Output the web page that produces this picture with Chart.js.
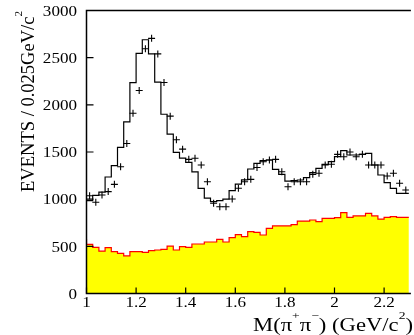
<!DOCTYPE html>
<html><head><meta charset="utf-8">
<script src="https://cdn.jsdelivr.net/npm/chart.js@4.4.0/dist/chart.umd.min.js"></script>
<style>html,body{margin:0;padding:0;background:#fff;} #wrap{width:414px;height:335px;position:relative;}</style>
</head><body><div id="wrap"><canvas id="c" width="414" height="335"></canvas></div>
<script>
// ---- data (bins of 0.025 GeV/c^2 from 1.0 to 2.3) ----
const binStart = 1.0;
const binWidth = 0.025;
const fitValues = [1000, 985, 1040, 1075, 1235, 1355, 1550, 1820, 2235, 2545, 2690, 2540, 2240, 1900, 1690, 1495, 1435, 1390, 1290, 1115, 1010, 975, 985, 1000, 1090, 1160, 1205, 1320, 1380, 1408, 1415, 1316, 1263, 1192, 1196, 1203, 1228, 1281, 1327, 1369, 1397, 1450, 1514, 1468, 1468, 1475, 1486, 1362, 1256, 1175, 1115, 1062];
const dataValues = [1037, 967, 1044, 1080, 1157, 1344, 1590, 1910, 2152, 2595, 2705, 2540, 2237, 1880, 1630, 1530, 1422, 1433, 1362, 1185, 956, 920, 920, 1002, 1115, 1185, 1210, 1335, 1397, 1415, 1422, 1291, 1132, 1185, 1185, 1185, 1263, 1274, 1362, 1370, 1475, 1450, 1500, 1450, 1475, 1362, 1362, 1362, 1245, 1274, 1168, 1097];
const bkgValues = [578, 521, 490, 450, 486, 443, 426, 398, 443, 443, 436, 454, 461, 468, 503, 461, 496, 490, 525, 525, 546, 546, 574, 546, 592, 624, 603, 656, 648, 620, 691, 716, 716, 716, 730, 768, 768, 779, 761, 797, 797, 804, 857, 807, 822, 822, 850, 822, 789, 807, 814, 807];
const xTicks = [1, 1.2, 1.4, 1.6, 1.8, 2, 2.2];
const xTickLabels = ['1', '1.2', '1.4', '1.6', '1.8', '2', '2.2'];
const yTicks = [0, 500, 1000, 1500, 2000, 2500, 3000];
const yTickLabels = ['0', '500', '1000', '1500', '2000', '2500', '3000'];
const xMin = 1, xMax = 2.3, yMin = 0, yMax = 3000;
const xTitleParts = [{t:'M(π'}, {t:'+', sup:true}, {t:'π'}, {t:'−', sup:true}, {t:') (GeV/c'}, {t:'2', sup:true}, {t:')'}];
const yTitleParts = [{t:'EVENTS / 0.025GeV/c'}, {t:'2', sup:true}];

function stepPoints(vals) {
  const pts = vals.map((v, i) => ({x: binStart + i * binWidth, y: v}));
  pts.push({x: binStart + vals.length * binWidth, y: vals[vals.length - 1]});
  return pts;
}
const dataPoints = dataValues.map((v, i) => ({x: binStart + (i + 0.5) * binWidth, y: v}));

const FONT = '"Liberation Serif", "Times New Roman", serif';
function measureRich(ctx, parts, fs) {
  let w = 0;
  for (const p of parts) {
    ctx.font = (p.sup ? fs * 0.6 : fs) + 'px ' + FONT;
    w += ctx.measureText(p.t).width;
  }
  return w;
}
function drawRich(ctx, parts, fs) {
  let x = 0;
  for (const p of parts) {
    ctx.font = (p.sup ? fs * 0.6 : fs) + 'px ' + FONT;
    ctx.fillText(p.t, x, p.sup ? -fs * 0.66 : 0);
    x += ctx.measureText(p.t).width;
  }
}

const axesPlugin = {
  id: 'rootAxes',
  afterDraw(chart) {
    const ctx = chart.ctx;
    const xs = chart.scales.x, ys = chart.scales.y;
    const a = chart.chartArea;
    ctx.save();
    ctx.strokeStyle = '#000';
    ctx.fillStyle = '#000';
    ctx.lineWidth = 1.5;
    // frame: left, bottom, top
    ctx.beginPath();
    ctx.moveTo(a.right + 2, a.top); ctx.lineTo(a.left, a.top);
    ctx.lineTo(a.left, a.bottom); ctx.lineTo(a.right + 2, a.bottom);
    ctx.stroke();
    // inward ticks
    ctx.lineWidth = 1.2;
    ctx.beginPath();
    yTicks.forEach(v => { const y = ys.getPixelForValue(v); ctx.moveTo(a.left, y); ctx.lineTo(a.left + 7, y); });
    xTicks.forEach(v => { const x = xs.getPixelForValue(v); ctx.moveTo(x, a.bottom); ctx.lineTo(x, a.bottom - 6); });
    ctx.stroke();
    // tick labels
    const fs = 14, sx = 1.22;
    ctx.font = fs + 'px ' + FONT;
    ctx.textBaseline = 'alphabetic';
    yTicks.forEach((v, i) => {
      const y = ys.getPixelForValue(v);
      const w = ctx.measureText(yTickLabels[i]).width * sx;
      ctx.save(); ctx.translate(77 - w, y + 5.2); ctx.scale(sx, 1);
      ctx.textAlign = 'left'; ctx.fillText(yTickLabels[i], 0, 0); ctx.restore();
    });
    xTicks.forEach((v, i) => {
      const x = xs.getPixelForValue(v);
      const w = ctx.measureText(xTickLabels[i]).width * sx;
      ctx.save(); ctx.translate(x - w / 2, 306.5); ctx.scale(sx, 1);
      ctx.textAlign = 'left'; ctx.fillText(xTickLabels[i], 0, 0); ctx.restore();
    });
    // x title
    const tfs = 18;
    ctx.textAlign = 'left';
    let W = measureRich(ctx, xTitleParts, tfs);
    let s = 160 / W;
    ctx.save(); ctx.translate(413 - 160, 331); ctx.scale(s, 1); drawRich(ctx, xTitleParts, tfs); ctx.restore();
    // y title
    W = measureRich(ctx, yTitleParts, tfs);
    s = 181 / W;
    ctx.save(); ctx.translate(33.5, 192); ctx.rotate(-Math.PI / 2); ctx.scale(s, 1); drawRich(ctx, yTitleParts, tfs); ctx.restore();
    ctx.restore();
  }
};

const whiteBg = {
  id: 'whiteBg',
  beforeDraw(chart) { const c = chart.ctx; c.save(); c.fillStyle = '#fff'; c.fillRect(0, 0, chart.width, chart.height); c.restore(); }
};

new Chart(document.getElementById('c'), {
  type: 'line',
  data: {
    datasets: [
      {label: 'data', type: 'scatter', data: dataPoints, showLine: false, pointStyle: 'cross',
       pointRadius: 3.5, pointBorderWidth: 1.1, borderColor: '#000', pointBorderColor: '#000', order: 0},
      {label: 'fit', data: stepPoints(fitValues), stepped: 'after', borderColor: '#000', borderWidth: 1.2,
       pointRadius: 0, fill: false, order: 1},
      {label: 'background', data: stepPoints(bkgValues), stepped: 'after', borderColor: '#ff0000', borderWidth: 1.2,
       backgroundColor: '#ffff00', fill: 'origin', pointRadius: 0, order: 2}
    ]
  },
  options: {
    responsive: false, animation: false, devicePixelRatio: 1,
    layout: {padding: {left: 86.5, top: 10.5, right: 0, bottom: 41.5}},
    scales: {
      x: {type: 'linear', min: xMin, max: xMax, display: false},
      y: {type: 'linear', min: yMin, max: yMax, display: false}
    },
    plugins: {legend: {display: false}, tooltip: {enabled: false}},
    elements: {line: {tension: 0}}
  },
  plugins: [whiteBg, axesPlugin]
});
</script>
</body></html>
